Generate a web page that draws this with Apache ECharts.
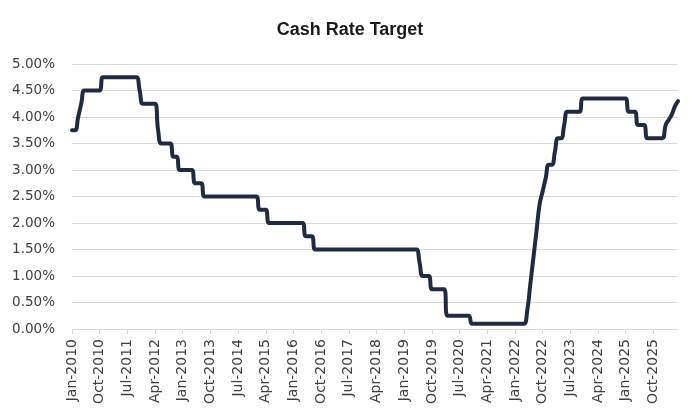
<!DOCTYPE html>
<html>
<head>
<meta charset="utf-8">
<script src="https://cdn.jsdelivr.net/npm/echarts@6/dist/echarts.min.js"></script>
<style>
html,body{margin:0;padding:0;background:#fff;}
#chart{width:700px;height:420px;}
</style>
</head>
<body>
<div id="chart"></div>
<script>
const chartTitle = "Cash Rate Target";
const monthNames = ["Jan","Feb","Mar","Apr","May","Jun","Jul","Aug","Sep","Oct","Nov","Dec"];
const startYear = 2010;
// Cash rate target (%) by month, Jan-2010 .. Jun-2026
const rate2010 = [3.75,3.75,4.00,4.25,4.50,4.50,4.50,4.50,4.50,4.50,4.75,4.75];
const rate2011 = [4.75,4.75,4.75,4.75,4.75,4.75,4.75,4.75,4.75,4.75,4.50,4.25];
const rate2012 = [4.25,4.25,4.25,4.25,3.75,3.50,3.50,3.50,3.50,3.25,3.25,3.00];
const rate2013 = [3.00,3.00,3.00,3.00,2.75,2.75,2.75,2.50,2.50,2.50,2.50,2.50];
const rate2014 = [2.50,2.50,2.50,2.50,2.50,2.50,2.50,2.50,2.50,2.50,2.50,2.50];
const rate2015 = [2.50,2.25,2.25,2.25,2.00,2.00,2.00,2.00,2.00,2.00,2.00,2.00];
const rate2016 = [2.00,2.00,2.00,2.00,1.75,1.75,1.75,1.50,1.50,1.50,1.50,1.50];
const rate2017 = [1.50,1.50,1.50,1.50,1.50,1.50,1.50,1.50,1.50,1.50,1.50,1.50];
const rate2018 = [1.50,1.50,1.50,1.50,1.50,1.50,1.50,1.50,1.50,1.50,1.50,1.50];
const rate2019 = [1.50,1.50,1.50,1.50,1.50,1.25,1.00,1.00,1.00,0.75,0.75,0.75];
const rate2020 = [0.75,0.75,0.25,0.25,0.25,0.25,0.25,0.25,0.25,0.25,0.10,0.10];
const rate2021 = [0.10,0.10,0.10,0.10,0.10,0.10,0.10,0.10,0.10,0.10,0.10,0.10];
const rate2022 = [0.10,0.10,0.10,0.10,0.35,0.85,1.35,1.85,2.35,2.60,2.85,3.10];
const rate2023 = [3.10,3.35,3.60,3.60,3.85,4.10,4.10,4.10,4.10,4.10,4.35,4.35];
const rate2024 = [4.35,4.35,4.35,4.35,4.35,4.35,4.35,4.35,4.35,4.35,4.35,4.35];
const rate2025 = [4.35,4.10,4.10,4.10,3.85,3.85,3.85,3.60,3.60,3.60,3.60,3.60];
const rate2026 = [3.60,3.85,3.95,4.05,4.20,4.30];
const yTicks = [0,0.5,1,1.5,2,2.5,3,3.5,4,4.5,5];

const values = [].concat(rate2010,rate2011,rate2012,rate2013,rate2014,rate2015,rate2016,rate2017,rate2018,rate2019,rate2020,rate2021,rate2022,rate2023,rate2024,rate2025,rate2026);
const categories = values.map((v,i)=>{
  const y = startYear + Math.floor(i/12);
  return monthNames[i%12] + "-" + y;
});

const chart = echarts.init(document.getElementById('chart'), null, {renderer:'canvas'});
chart.setOption({
  animation:false,
  backgroundColor:'#ffffff',
  title:{
    text: chartTitle,
    left:'center',
    top:16,
    textStyle:{fontFamily:'Liberation Sans',fontWeight:'bold',fontSize:18,color:'#1a1a1a'}
  },
  grid:{left:72,right:22,top:64,bottom:91,containLabel:false},
  xAxis:{
    type:'category',
    data:categories,
    boundaryGap:false,
    axisLine:{lineStyle:{color:'#d9d9d9',width:1}},
    axisTick:{show:true,interval:8,length:5,lineStyle:{color:'#d9d9d9'}},
    axisLabel:{interval:8,rotate:90,margin:10,fontFamily:'DejaVu Sans',fontSize:14,color:'#404040'},
    splitLine:{show:false}
  },
  yAxis:{
    type:'value',
    min:yTicks[0],
    max:yTicks[yTicks.length-1],
    interval:0.5,
    axisLine:{show:false},
    axisTick:{show:false},
    axisLabel:{margin:17,fontFamily:'DejaVu Sans',fontSize:13.5,color:'#404040',formatter:v=>v.toFixed(2)+'%'},
    splitLine:{lineStyle:{color:'#d9d9d9',width:1}}
  },
  series:[{
    type:'line',
    data:values,
    smooth:0.5,
    showSymbol:false,
    lineStyle:{color:'#1f2b42',width:4,cap:'round',join:'round'},
    itemStyle:{color:'#1f2b42'}
  }]
});
</script>
</body>
</html>
